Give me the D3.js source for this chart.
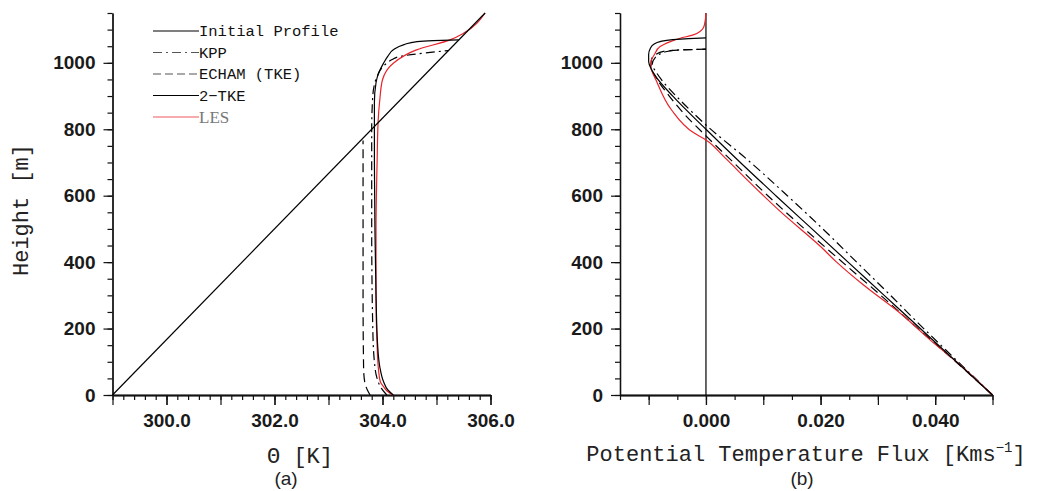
<!DOCTYPE html>
<html>
<head>
<meta charset="utf-8">
<script src="https://cdn.jsdelivr.net/npm/d3@7"></script>
<style>
  body { margin: 0; background: #fff; }
</style>
</head>
<body>
<svg id="chart" width="1040" height="491"></svg>
<script>
// ---- data ----
const heightDomain = [0, 1150];
const thetaDomain = [299, 306];
const fluxDomain = [-0.015, 0.05];

const thetaLabels = [300, 302, 304, 306];
const fluxLabels = [0, 0.02, 0.04];
const heightLabels = [0, 200, 400, 600, 800, 1000];

// panel (a): potential temperature profiles
const initH = [0, 1150];
const initTheta = [299.0, 305.9];

const kppH     = [0, 20, 50, 100, 200, 500, 800, 900, 959, 985, 999, 1010, 1019, 1030, 1037];
const kppTheta = [304.08, 303.98, 303.9, 303.85, 303.82, 303.8, 303.8, 303.82, 303.9, 303.99, 304.08, 304.18, 304.32, 304.8, 305.22];

const echamH     = [0, 15, 40, 80, 300, 500, 766];
const echamTheta = [303.77, 303.72, 303.67, 303.65, 303.64, 303.64, 303.64];

const tkeH     = [0, 15, 40, 85, 150, 300, 500, 700, 880, 940, 970, 999, 1020, 1039, 1055, 1064, 1067, 1069];
const tkeTheta = [304.2, 304.1, 304.02, 303.95, 303.91, 303.88, 303.86, 303.85, 303.85, 303.88, 303.93, 304.02, 304.1, 304.2, 304.4, 304.64, 304.94, 305.41];

const lesH     = [0, 10, 25, 40, 70, 150, 300, 500, 700, 828, 889, 949, 999, 1039, 1069, 1089, 1150];
const lesTheta = [304.2, 304.1, 304.02, 303.96, 303.93, 303.9, 303.88, 303.88, 303.9, 303.92, 303.95, 304.0, 304.2, 304.63, 305.25, 305.5, 305.9];

// panel (b): potential temperature flux profiles
const kppFluxH = [0, 100, 200, 300, 400, 500, 600, 700, 813, 900, 950, 975, 994, 1017, 1034, 1039, 1041];
const kppFlux  = [0.05, 0.044, 0.038, 0.0322, 0.0263, 0.0204, 0.0142, 0.0078, 0, -0.0052, -0.0078, -0.0088, -0.0094, -0.0088, -0.0068, -0.0045, 0];

const echamFluxH = [0, 100, 200, 300, 400, 500, 600, 700, 780, 850, 900, 950, 990, 1010, 1025, 1036, 1041];
const echamFlux  = [0.05, 0.0436, 0.037, 0.0305, 0.0238, 0.0172, 0.0108, 0.0048, 0, -0.004, -0.0064, -0.0085, -0.0096, -0.0095, -0.0088, -0.007, 0];

const tkeFluxH = [0, 100, 200, 300, 400, 500, 600, 700, 800, 898, 960, 980, 1004, 1025, 1044, 1056, 1064, 1070, 1073, 1075];
const tkeFlux  = [0.05, 0.0437, 0.0374, 0.0311, 0.0248, 0.0185, 0.0122, 0.006, 0, -0.0057, -0.0088, -0.0095, -0.01, -0.01, -0.0097, -0.0091, -0.008, -0.0058, -0.003, 0];

const lesFluxH = [0, 100, 160, 246, 331, 400, 447, 552, 668, 720, 768, 790, 858, 944, 989, 1004, 1025, 1049, 1064, 1074, 1084, 1095, 1104, 1120, 1150];
const lesFlux  = [0.05, 0.0437, 0.0395, 0.0339, 0.0275, 0.0228, 0.02, 0.013, 0.006, 0.003, 0, -0.0022, -0.006, -0.0086, -0.0096, -0.0096, -0.009, -0.008, -0.0062, -0.0045, -0.0022, -0.001, -0.0005, -0.0002, 0];

const legendNames = ["Initial Profile", "KPP", "ECHAM (TKE)", "2\u2212TKE", "LES"];

// ---- styles ----
const styles = {
    init:  { stroke: "#000", dash: null, width: 1.2 },
    kpp:   { stroke: "#000", dash: "9,4,2,4", width: 1.2 },
    echam: { stroke: "#000", dash: "9,5", width: 1.2 },
    tke:   { stroke: "#000", dash: null, width: 1.2 },
    les:   { stroke: "#e8232a", dash: null, width: 1.2 }
};

var svg = d3.select("#chart");

var yScale = d3.scaleLinear().domain(heightDomain).range([395, 13]);
var xTheta = d3.scaleLinear().domain(thetaDomain).range([112.5, 490.5]);
var xFlux = d3.scaleLinear().domain(fluxDomain).range([620, 992.5]);

var tickFont = "'Liberation Sans', Arial, sans-serif";
var titleFont = "'Liberation Mono', 'Courier New', monospace";

function styleAxis(g) {
    g.select(".domain").attr("stroke", "#111").attr("stroke-width", 1.3);
    g.selectAll(".tick line").attr("stroke", "#111").attr("stroke-width", 1.2);
    g.selectAll("text")
        .attr("font-family", tickFont)
        .attr("font-weight", "bold")
        .attr("font-size", 19)
        .attr("fill", "#1a1a1a");
}

function drawAxes(x, minorX, majorX, labelX, fmt) {
    var base = yScale(0);

    // x minors
    svg.append("g")
        .attr("transform", `translate(0,${base})`)
        .call(d3.axisBottom(x).tickValues(minorX).tickSize(5).tickSizeOuter(0).tickFormat(""))
        .call(styleAxis);
    // x majors
    svg.append("g")
        .attr("transform", `translate(0,${base})`)
        .call(d3.axisBottom(x).tickValues(majorX).tickSize(10).tickSizeOuter(0).tickFormat(""))
        .call(styleAxis);
    // x labels
    svg.append("g")
        .attr("transform", `translate(0,${base})`)
        .call(d3.axisBottom(x).tickValues(labelX).tickSize(10).tickPadding(9).tickSizeOuter(0).tickFormat(fmt))
        .call(styleAxis);

    var left = x.range()[0];
    // y minors
    svg.append("g")
        .attr("transform", `translate(${left},0)`)
        .call(d3.axisLeft(yScale).tickValues(d3.range(0, 1151, 50)).tickSize(5).tickSizeOuter(0).tickFormat(""))
        .call(styleAxis);
    // y labelled majors
    svg.append("g")
        .attr("transform", `translate(${left},0)`)
        .call(d3.axisLeft(yScale).tickValues(heightLabels).tickSize(9).tickPadding(8).tickSizeOuter(0).tickFormat(d3.format("d")))
        .call(styleAxis);
}

function drawLine(x, hs, vs, st) {
    var pts = hs.map(function(h, i) { return [vs[i], h]; });
    var line = d3.line()
        .x(function(d) { return x(d[0]); })
        .y(function(d) { return yScale(d[1]); })
        .curve(d3.curveMonotoneY);
    svg.append("path")
        .datum(pts)
        .attr("d", line)
        .attr("fill", "none")
        .attr("stroke", st.stroke)
        .attr("stroke-width", st.width)
        .attr("stroke-dasharray", st.dash);
}

// ---- panel (a) ----
drawAxes(xTheta, d3.range(299, 306.01, 0.2), d3.range(299, 306.5, 1), thetaLabels, d3.format(".1f"));

drawLine(xTheta, echamH, echamTheta, styles.echam);
drawLine(xTheta, kppH, kppTheta, styles.kpp);
drawLine(xTheta, lesH, lesTheta, styles.les);
drawLine(xTheta, tkeH, tkeTheta, styles.tke);
drawLine(xTheta, initH, initTheta, styles.init);

// legend
var legend = svg.append("g").attr("transform", "translate(153,31)");
var legendStyles = [styles.init, styles.kpp, styles.echam, styles.tke, styles.les];
legendNames.forEach(function(name, i) {
    var row = legend.append("g").attr("transform", `translate(0,${i * 21.5})`);
    var st = legendStyles[i];
    row.append("line")
        .attr("x1", 0).attr("x2", 46)
        .attr("stroke", i == 4 ? "#ee5a5f" : (i == 1 || i == 2 ? "#555" : "#000"))
        .attr("stroke-width", 1.2)
        .attr("stroke-dasharray", i == 2 ? "8,4" : st.dash);
    row.append("text")
        .attr("x", 46)
        .attr("dy", "0.35em")
        .attr("font-family", i == 4 ? "'Liberation Serif', serif" : titleFont)
        .attr("font-size", i == 4 ? 17 : 15.5)
        .attr("fill", i == 4 ? "#777" : "#111")
        .text(name);
});

// ---- panel (b) ----
drawAxes(xFlux, d3.range(-0.015, 0.0501, 0.005), d3.range(-0.01, 0.0501, 0.01), fluxLabels, d3.format(".3f"));

// zero line
svg.append("line")
    .attr("x1", xFlux(0)).attr("x2", xFlux(0))
    .attr("y1", yScale(heightDomain[0])).attr("y2", yScale(heightDomain[1]))
    .attr("stroke", "#000").attr("stroke-width", 1.2);

drawLine(xFlux, echamFluxH, echamFlux, styles.echam);
drawLine(xFlux, kppFluxH, kppFlux, styles.kpp);
drawLine(xFlux, lesFluxH, lesFlux, styles.les);
drawLine(xFlux, tkeFluxH, tkeFlux, styles.tke);

// ---- titles ----
svg.append("text")
    .attr("transform", "translate(28,210) rotate(-90)")
    .attr("text-anchor", "middle")
    .attr("font-family", titleFont)
    .attr("font-size", 22)
    .attr("fill", "#222")
    .text("Height [m]");

svg.append("text")
    .attr("x", 300).attr("y", 463)
    .attr("text-anchor", "middle")
    .attr("font-family", titleFont)
    .attr("font-size", 22)
    .attr("fill", "#222")
    .text("\u0398 [K]");

svg.append("text")
    .attr("x", 286).attr("y", 485)
    .attr("text-anchor", "middle")
    .attr("font-family", tickFont)
    .attr("font-size", 19)
    .attr("fill", "#222")
    .text("(a)");

var fluxTitle = svg.append("text")
    .attr("x", 806).attr("y", 461)
    .attr("text-anchor", "middle")
    .attr("font-family", titleFont)
    .attr("font-size", 22)
    .attr("fill", "#222");
fluxTitle.append("tspan").text("Potential Temperature Flux [Kms");
fluxTitle.append("tspan").attr("dy", -9).attr("font-size", 14).text("\u22121");
fluxTitle.append("tspan").attr("dy", 9).text("]");

svg.append("text")
    .attr("x", 802).attr("y", 485)
    .attr("text-anchor", "middle")
    .attr("font-family", tickFont)
    .attr("font-size", 19)
    .attr("fill", "#222")
    .text("(b)");
</script>
</body>
</html>
